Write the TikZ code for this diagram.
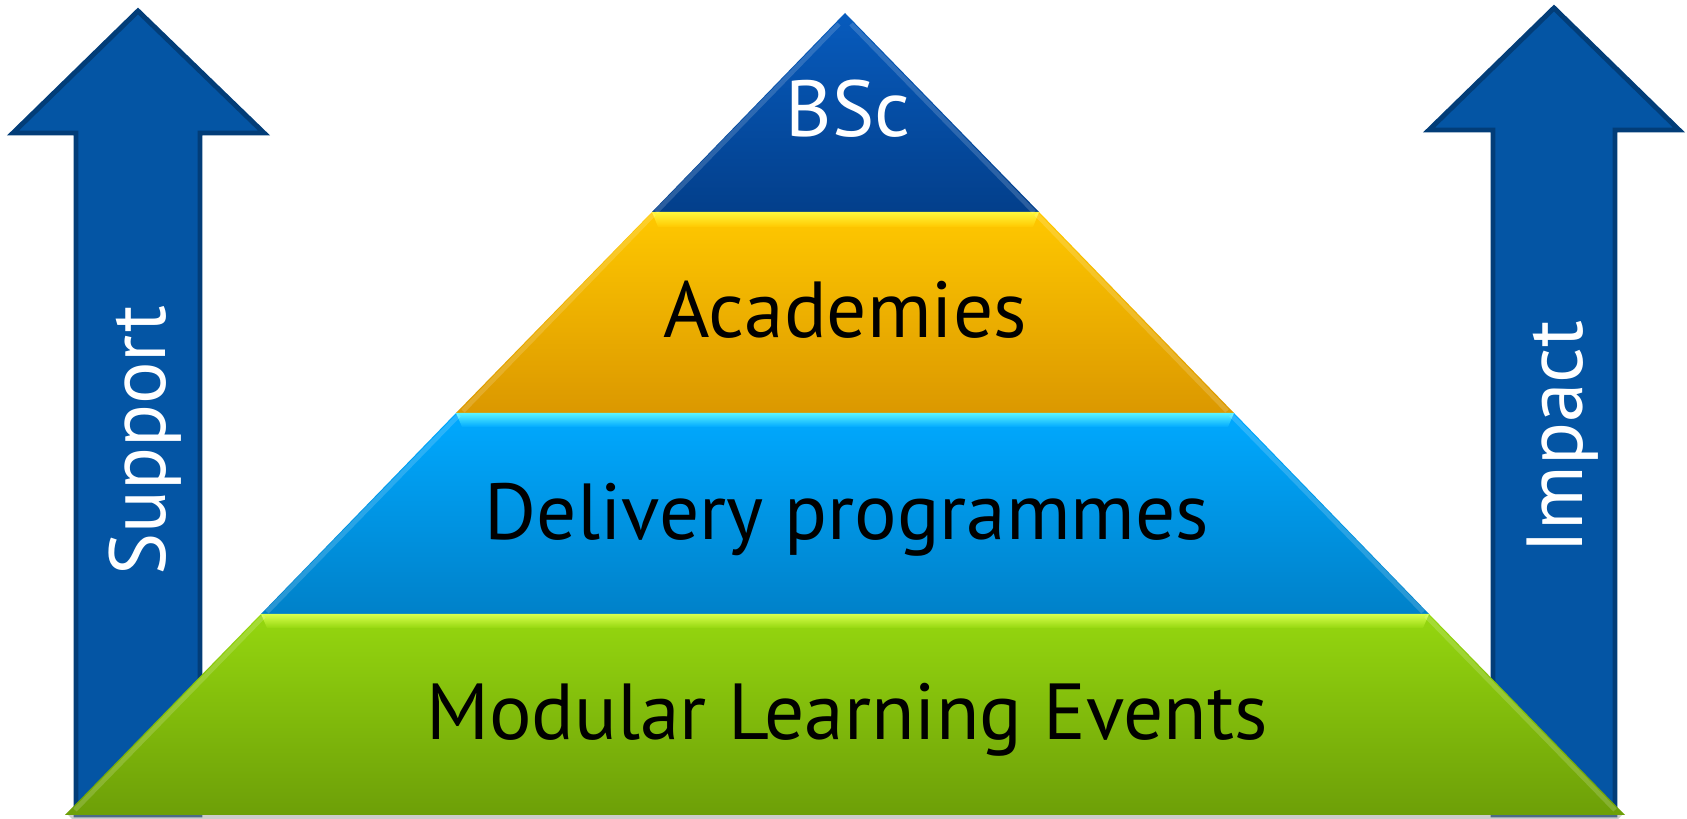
\documentclass[tikz,border=0pt]{standalone}
\usepackage{fontspec}
\setmainfont{PT Sans}
\definecolor{arrowblue}{HTML}{0455A4}
\definecolor{arrowedge}{HTML}{023D78}
\definecolor{bscTop}{HTML}{075BBD}
\definecolor{bscBot}{HTML}{033F8B}
\definecolor{acadTop}{HTML}{FFC800}
\definecolor{acadBot}{HTML}{DB9800}
\definecolor{acadShine}{HTML}{FFF83C}
\definecolor{delTop}{HTML}{00A9FF}
\definecolor{delBot}{HTML}{0081C9}
\definecolor{delShine}{HTML}{5CF4FF}
\definecolor{modTop}{HTML}{95D70F}
\definecolor{modBot}{HTML}{6D9F08}
\definecolor{modShine}{HTML}{D8FF4C}
\usetikzlibrary{arrows}

\tikzset{
  bigarrow/.style={fill=arrowblue, draw=arrowedge, line width=1.4pt, line join=miter},
  tier/.style={font=\fontsize{22.6}{26}\selectfont, anchor=base, inner sep=0pt},
  sidelabel/.style={font=\fontsize{22.6}{26}\selectfont, anchor=base, inner sep=0pt, text=white, rotate=90},
  edgeglow/.style={white, opacity=.16, line width=1.3pt}
}

\begin{document}
\begin{tikzpicture}[x=0.01cm,y=-0.01cm]
\useasboundingbox (0,0) rectangle (1687,819);

\draw[bigarrow] (138,11) -- (264,133) -- (200,133) -- (200,815) -- (76,815) -- (76,133) -- (13,133) -- cycle;
\draw[bigarrow] (1554,8) -- (1679,130) -- (1615,130) -- (1615,815) -- (1493,815) -- (1493,130) -- (1429,130) -- cycle;

\fill[black!40, opacity=.5] (68,815) -- (1622,815) -- (1618,819) -- (72,819) -- cycle;

\shade[top color=modTop, bottom color=modBot] (261,614) -- (1429,614) -- (1625,815) -- (65,815) -- cycle;
\shade[top color=delTop, bottom color=delBot] (456,413) -- (1234,413) -- (1429,614) -- (261,614) -- cycle;
\shade[top color=acadTop, bottom color=acadBot] (652,212) -- (1039,212) -- (1234,413) -- (456,413) -- cycle;
\shade[top color=bscTop, bottom color=bscBot] (845,13) -- (1039,212) -- (652,212) -- cycle;

\shade[top color=acadShine, bottom color=acadTop] (652,212) -- (1039,212) -- (1033,227) -- (658,227) -- cycle;
\shade[top color=delShine, bottom color=delTop] (456,413) -- (1234,413) -- (1228,427) -- (462,427) -- cycle;
\shade[top color=modShine, bottom color=modTop] (261,614) -- (1429,614) -- (1423,628) -- (267,628) -- cycle;

\draw[edgeglow] (839,24) -- (656,212) (851,24) -- (1034,212);
\draw[edgeglow] (654,214) -- (463,411) (1036,214) -- (1227,411);
\draw[edgeglow] (459,415) -- (267,612) (1231,415) -- (1423,612);
\draw[edgeglow] (264,616) -- (75,810) (1426,616) -- (1615,810);

\node[tier, text=white] (bsc) at (848,137) {BSc};
\node[tier] (academies) at (845,338) {Academies};
\node[tier] (delivery) at (847,540) {Delivery programmes};
\node[tier] (modular) at (847,740) {Modular Learning Events};

\node[sidelabel] (support) at (165,441) {Support};
\node[sidelabel] (impact) at (1582,437) {Impact};
\end{tikzpicture}
\end{document}
